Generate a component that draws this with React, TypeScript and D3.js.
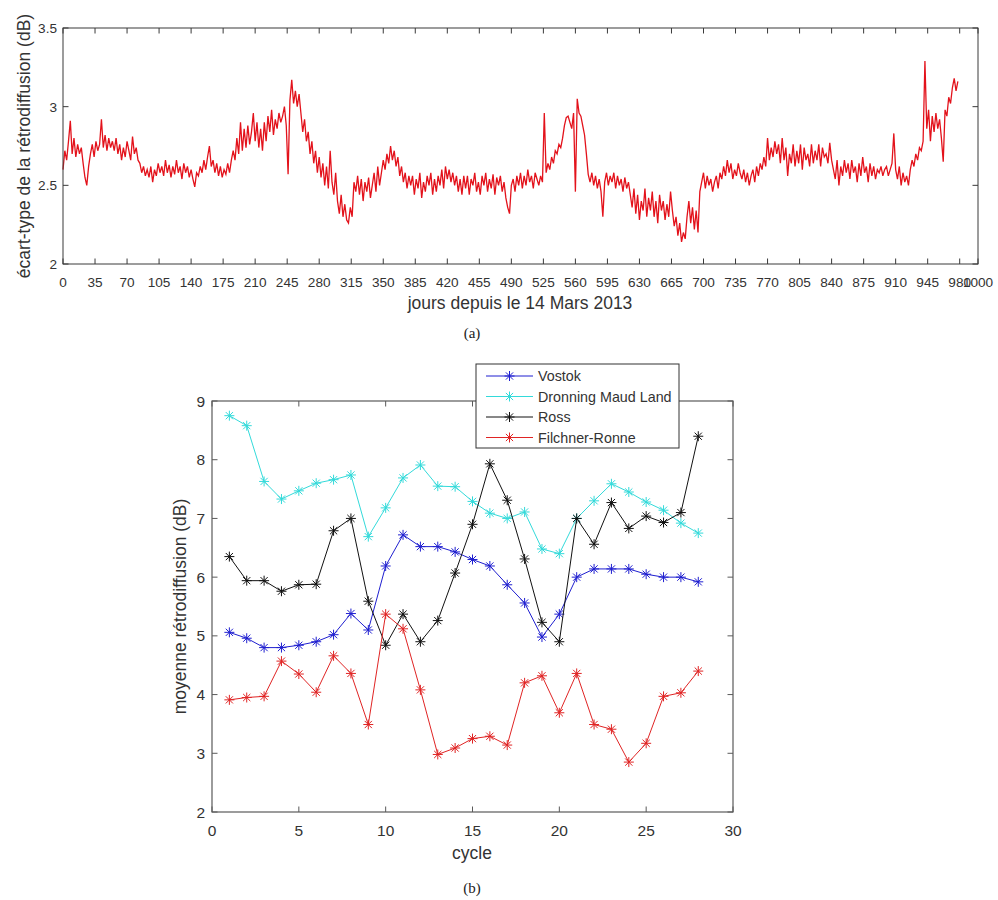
import React from "react";
import * as d3 from "d3";

// ---------- Data (a): daily backscatter std-dev, sampled every 2 days from day 0 ----------
const DAY_STEP = 2;
const topValues: number[] = [
  2.60, 2.72, 2.66, 2.78, 2.91, 2.70, 2.80, 2.68, 2.76, 2.70,
  2.74, 2.64, 2.55, 2.50, 2.62, 2.70, 2.76, 2.68, 2.78, 2.72,
  2.76, 2.92, 2.74, 2.82, 2.72, 2.80, 2.74, 2.78, 2.72, 2.80,
  2.70, 2.76, 2.66, 2.74, 2.68, 2.78, 2.72, 2.66, 2.81, 2.70,
  2.74, 2.66, 2.64, 2.58, 2.62, 2.56, 2.60, 2.55, 2.62, 2.52,
  2.60, 2.56, 2.64, 2.58, 2.62, 2.56, 2.66, 2.58, 2.63, 2.55,
  2.62, 2.57, 2.66, 2.58, 2.62, 2.54, 2.64, 2.58, 2.62, 2.55,
  2.60, 2.54, 2.49, 2.58, 2.56, 2.62, 2.58, 2.66, 2.60, 2.68,
  2.75, 2.62, 2.66, 2.58, 2.64, 2.56, 2.62, 2.55, 2.60, 2.57,
  2.64, 2.58, 2.66, 2.72, 2.66, 2.80, 2.70, 2.90, 2.72, 2.86,
  2.74, 2.88, 2.76, 2.84, 2.96, 2.78, 2.90, 2.74, 2.86, 2.72,
  2.90, 2.78, 2.94, 2.84, 2.98, 2.82, 2.92, 2.86, 2.96, 2.90,
  2.94, 3.00, 2.88, 2.57, 3.04, 3.17, 3.02, 3.10, 3.00, 3.08,
  2.96, 2.84, 2.92, 2.78, 2.84, 2.70, 2.78, 2.64, 2.72, 2.58,
  2.68, 2.55, 2.64, 2.50, 2.62, 2.48, 2.72, 2.52, 2.44, 2.58,
  2.40, 2.32, 2.44, 2.30, 2.38, 2.28, 2.26, 2.36, 2.30, 2.52,
  2.46, 2.56, 2.44, 2.54, 2.40, 2.52, 2.46, 2.55, 2.42, 2.50,
  2.58, 2.46, 2.62, 2.50, 2.58, 2.66, 2.60, 2.70, 2.64, 2.75,
  2.66, 2.72, 2.62, 2.68, 2.56, 2.62, 2.52, 2.58, 2.48, 2.56,
  2.50, 2.56, 2.44, 2.54, 2.48, 2.58, 2.42, 2.52, 2.46, 2.56,
  2.50, 2.58, 2.44, 2.54, 2.46, 2.56, 2.50, 2.60, 2.48, 2.62,
  2.54, 2.60, 2.52, 2.58, 2.50, 2.56, 2.46, 2.54, 2.44, 2.56,
  2.48, 2.56, 2.44, 2.54, 2.50, 2.58, 2.46, 2.52, 2.44, 2.56,
  2.50, 2.58, 2.46, 2.54, 2.48, 2.57, 2.44, 2.55, 2.50, 2.56,
  2.46, 2.52, 2.42, 2.36, 2.32, 2.50, 2.54, 2.46, 2.56, 2.50,
  2.58, 2.48, 2.56, 2.50, 2.60, 2.52, 2.56, 2.48, 2.58, 2.54,
  2.50, 2.56, 2.52, 2.96, 2.58, 2.64, 2.60, 2.68, 2.64, 2.72,
  2.70, 2.76, 2.74, 2.80, 2.88, 2.93, 2.94, 2.90, 2.86, 2.96,
  2.46, 3.05, 2.96, 2.94, 2.88, 2.82, 2.70, 2.57, 2.52, 2.58,
  2.50, 2.56, 2.48, 2.54, 2.46, 2.30, 2.52, 2.58, 2.50, 2.56,
  2.52, 2.58, 2.48, 2.56, 2.50, 2.54, 2.46, 2.55, 2.48, 2.52,
  2.44, 2.36, 2.48, 2.32, 2.44, 2.28, 2.40, 2.34, 2.48, 2.30,
  2.42, 2.34, 2.46, 2.30, 2.40, 2.26, 2.44, 2.34, 2.40, 2.28,
  2.38, 2.30, 2.46, 2.34, 2.24, 2.30, 2.18, 2.26, 2.14, 2.20,
  2.16, 2.30, 2.40, 2.26, 2.36, 2.22, 2.34, 2.20, 2.46, 2.52,
  2.58, 2.48, 2.56, 2.50, 2.54, 2.46, 2.52, 2.56, 2.48, 2.58,
  2.54, 2.62, 2.56, 2.66, 2.58, 2.64, 2.54, 2.60, 2.56, 2.64,
  2.58, 2.54, 2.60, 2.52, 2.58, 2.50, 2.56, 2.60, 2.52, 2.62,
  2.56, 2.64, 2.60, 2.68, 2.62, 2.80, 2.66, 2.74, 2.68, 2.78,
  2.70, 2.76, 2.64, 2.80, 2.66, 2.74, 2.56, 2.70, 2.64, 2.76,
  2.62, 2.72, 2.64, 2.76, 2.60, 2.74, 2.66, 2.70, 2.62, 2.76,
  2.64, 2.72, 2.66, 2.76, 2.62, 2.74, 2.68, 2.70, 2.64, 2.77,
  2.66, 2.60, 2.54, 2.66, 2.50, 2.62, 2.56, 2.66, 2.58, 2.64,
  2.54, 2.66, 2.58, 2.62, 2.52, 2.64, 2.56, 2.68, 2.58, 2.62,
  2.52, 2.64, 2.56, 2.62, 2.54, 2.60, 2.58, 2.62, 2.56, 2.60,
  2.62, 2.56, 2.60, 2.64, 2.83, 2.60, 2.54, 2.62, 2.50, 2.58,
  2.52, 2.56, 2.50, 2.60, 2.66, 2.62, 2.70, 2.66, 2.74, 2.72,
  2.78, 3.29, 2.86, 2.98, 2.78, 2.94, 2.84, 2.96, 2.86, 2.92,
  2.80, 2.65, 2.98, 2.94, 3.06, 3.02, 3.12, 3.18, 3.10, 3.16,
];
const topXTicks = [0, 35, 70, 105, 140, 175, 210, 245, 280, 315, 350, 385, 420, 455, 490, 525, 560, 595, 630, 665, 700, 735, 770, 805, 840, 875, 910, 945, 980, 1000];
const topYTicks = [2, 2.5, 3, 3.5];

// ---------- Data (b): mean backscatter per cycle ----------
const cycles = [1, 2, 3, 4, 5, 6, 7, 8, 9, 10, 11, 12, 13, 14, 15, 16, 17, 18, 19, 20, 21, 22, 23, 24, 25, 26, 27, 28];
const vostok = [5.06, 4.96, 4.80, 4.80, 4.84, 4.90, 5.02, 5.38, 5.10, 6.19, 6.72, 6.52, 6.52, 6.43, 6.30, 6.19, 5.87, 5.56, 4.98, 5.37, 6.00, 6.14, 6.14, 6.14, 6.05, 6.00, 6.00, 5.92];
const dronning = [8.75, 8.58, 7.63, 7.33, 7.47, 7.60, 7.66, 7.74, 6.69, 7.18, 7.69, 7.91, 7.55, 7.54, 7.29, 7.09, 7.00, 7.11, 6.48, 6.40, 7.00, 7.30, 7.59, 7.45, 7.28, 7.14, 6.92, 6.75];
const ross = [6.35, 5.94, 5.94, 5.76, 5.87, 5.88, 6.79, 7.00, 5.59, 4.84, 5.37, 4.90, 5.26, 6.07, 6.90, 7.93, 7.31, 6.31, 5.23, 4.90, 7.00, 6.56, 7.27, 6.83, 7.04, 6.93, 7.10, 8.40];
const filchner = [3.91, 3.95, 3.97, 4.57, 4.35, 4.04, 4.66, 4.36, 3.49, 5.37, 5.12, 4.08, 2.98, 3.09, 3.25, 3.29, 3.14, 4.20, 4.32, 3.69, 4.36, 3.49, 3.41, 2.85, 3.17, 3.97, 4.03, 4.40];
const seriesNames = ["Vostok", "Dronning Maud Land", "Ross", "Filchner-Ronne"];
const seriesColors = ["#1f1fd0", "#33dada", "#111111", "#e02424"];
const bottomXTicks = [0, 5, 10, 15, 20, 25, 30];
const bottomYTicks = [2, 3, 4, 5, 6, 7, 8, 9];

const SANS = "'Liberation Sans', Arial, Helvetica, sans-serif";
const SERIF = "'Liberation Serif', 'DejaVu Serif', serif";
const AXIS = "#3a3a3a";
const TXT = "#333333";

function Asterisk({ x, y, r, color }: { x: number; y: number; r: number; color: string }) {
  const d = r * 0.72;
  return (
    <g stroke={color} strokeWidth={1}>
      <line x1={x - r} y1={y} x2={x + r} y2={y} />
      <line x1={x} y1={y - r} x2={x} y2={y + r} />
      <line x1={x - d} y1={y - d} x2={x + d} y2={y + d} />
      <line x1={x - d} y1={y + d} x2={x + d} y2={y - d} />
    </g>
  );
}

export default function App() {
  // ---- chart (a) ----
  const ax = d3.scaleLinear().domain([0, 1000]).range([63, 978]);
  const ay = d3.scaleLinear().domain([2, 3.5]).range([264, 28]);
  const topLine = d3
    .line<number>()
    .x((_, i) => ax(i * DAY_STEP))
    .y((v) => ay(v))(topValues) as string;

  // ---- chart (b) ----
  const bx = d3.scaleLinear().domain([0, 30]).range([212, 733]);
  const by = d3.scaleLinear().domain([2, 9]).range([812, 401]);
  const allSeries = [vostok, dronning, ross, filchner];
  const lineGen = d3
    .line<number>()
    .x((_, i) => bx(cycles[i]))
    .y((v) => by(v));

  const tickLen = 5.5;

  return (
    <svg
      width={998}
      height={900}
      style={{ position: "absolute", left: 0, top: 0, background: "#fff" }}
      fontFamily={SANS}
    >
      <rect x={0} y={0} width={998} height={900} fill="#fff" />
      {/* ===== Chart (a) ===== */}
      <path d={topLine} fill="none" stroke="#e3121b" strokeWidth={1.3} strokeLinejoin="miter" />
      <rect x={ax(0)} y={ay(3.5)} width={ax(1000) - ax(0)} height={ay(2) - ay(3.5)} fill="none" stroke={AXIS} strokeWidth={1} />
      {topXTicks.map((t) => (
        <g key={"ax" + t}>
          <line x1={ax(t)} x2={ax(t)} y1={ay(2)} y2={ay(2) - tickLen} stroke={AXIS} />
          <line x1={ax(t)} x2={ax(t)} y1={ay(3.5)} y2={ay(3.5) + tickLen} stroke={AXIS} />
          <text x={ax(t)} y={287} textAnchor="middle" fontSize={13.6} fill={TXT}>
            {t}
          </text>
        </g>
      ))}
      {topYTicks.map((t) => (
        <g key={"ay" + t}>
          <line x1={ax(0)} x2={ax(0) + tickLen} y1={ay(t)} y2={ay(t)} stroke={AXIS} />
          <line x1={ax(1000)} x2={ax(1000) - tickLen} y1={ay(t)} y2={ay(t)} stroke={AXIS} />
          <text x={57} y={ay(t) + 5} textAnchor="end" fontSize={13.6} fill={TXT}>
            {t}
          </text>
        </g>
      ))}
      <text x={520} y={309} textAnchor="middle" fontSize={17.5} fill={TXT}>
        jours depuis le 14 Mars 2013
      </text>
      <text
        transform={`translate(30,${(ay(2) + ay(3.5)) / 2}) rotate(-90)`}
        textAnchor="middle"
        fontSize={17.5}
        fill={TXT}
      >
        écart-type de la rétrodiffusion (dB)
      </text>
      <text x={472} y={338} textAnchor="middle" fontSize={15} fontFamily={SERIF} fill="#222">
        (a)
      </text>

      {/* ===== Chart (b) ===== */}
      <rect x={bx(0)} y={by(9)} width={bx(30) - bx(0)} height={by(2) - by(9)} fill="none" stroke="#5a5a5a" strokeWidth={1.2} />
      {bottomXTicks.map((t) => (
        <g key={"bx" + t}>
          <line x1={bx(t)} x2={bx(t)} y1={by(2)} y2={by(2) - tickLen} stroke="#5a5a5a" />
          <line x1={bx(t)} x2={bx(t)} y1={by(9)} y2={by(9) + tickLen} stroke="#5a5a5a" />
          <text x={bx(t)} y={836} textAnchor="middle" fontSize={15.5} fill={TXT}>
            {t}
          </text>
        </g>
      ))}
      {bottomYTicks.map((t) => (
        <g key={"by" + t}>
          <line x1={bx(0)} x2={bx(0) + tickLen} y1={by(t)} y2={by(t)} stroke="#5a5a5a" />
          <line x1={bx(30)} x2={bx(30) - tickLen} y1={by(t)} y2={by(t)} stroke="#5a5a5a" />
          <text x={205} y={by(t) + 5.5} textAnchor="end" fontSize={15.5} fill={TXT}>
            {t}
          </text>
        </g>
      ))}
      {allSeries.map((s, k) => (
        <g key={"s" + k}>
          <path d={lineGen(s) as string} fill="none" stroke={seriesColors[k]} strokeWidth={1} />
          {s.map((v, i) => (
            <Asterisk key={i} x={bx(cycles[i])} y={by(v)} r={5} color={seriesColors[k]} />
          ))}
        </g>
      ))}
      <text x={472} y={859} textAnchor="middle" fontSize={17.5} fill={TXT}>
        cycle
      </text>
      <text
        transform={`translate(186,${(by(2) + by(9)) / 2}) rotate(-90)`}
        textAnchor="middle"
        fontSize={17.5}
        fill={TXT}
      >
        moyenne rétrodiffusion (dB)
      </text>
      <text x={472} y={893} textAnchor="middle" fontSize={15} fontFamily={SERIF} fill="#222">
        (b)
      </text>

      {/* Legend */}
      <g>
        <rect x={476} y={364} width={203} height={84} fill="#fff" stroke="#333" strokeWidth={1} />
        {seriesNames.map((n, k) => {
          const yy = 376 + k * 20.5;
          return (
            <g key={"lg" + k}>
              <line x1={486} x2={533} y1={yy} y2={yy} stroke={seriesColors[k]} strokeWidth={1} />
              <Asterisk x={509.5} y={yy} r={5} color={seriesColors[k]} />
              <text x={538} y={yy + 5} fontSize={14.3} fill={TXT}>
                {n}
              </text>
            </g>
          );
        })}
      </g>
    </svg>
  );
}
